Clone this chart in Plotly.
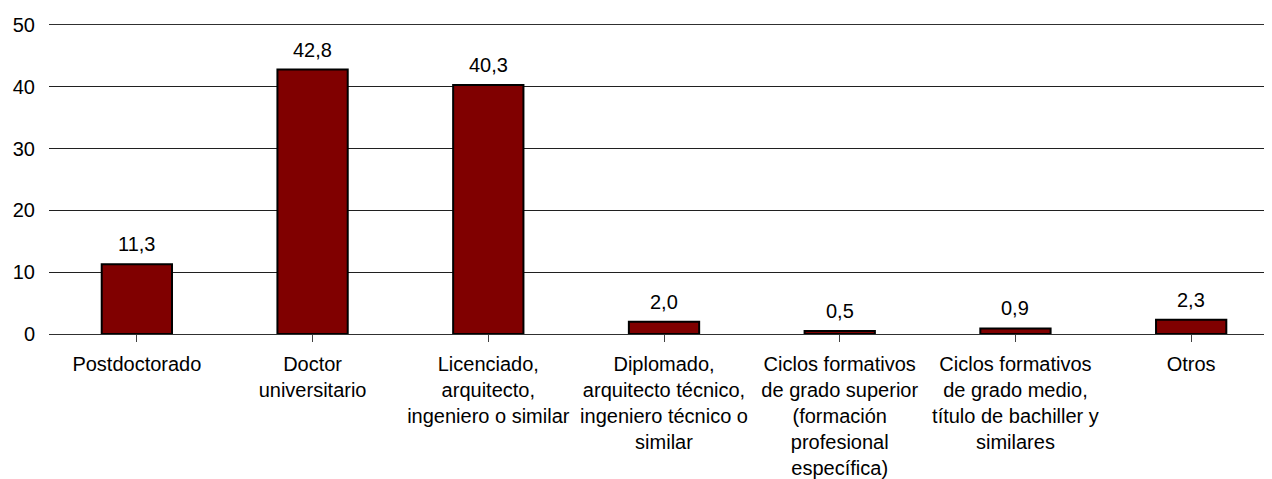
import plotly.graph_objects as go

categories = [
    "Postdoctorado",
    "Doctor<br>universitario",
    "Licenciado,<br>arquitecto,<br>ingeniero o similar",
    "Diplomado,<br>arquitecto técnico,<br>ingeniero técnico o<br>similar",
    "Ciclos formativos<br>de grado superior<br>(formación<br>profesional<br>específica)",
    "Ciclos formativos<br>de grado medio,<br>título de bachiller y<br>similares",
    "Otros",
]
values = [11.3, 42.8, 40.3, 2.0, 0.5, 0.9, 2.3]
y_ticks = [0, 10, 20, 30, 40, 50]

font = dict(family="Liberation Sans, Arial, sans-serif", size=20, color="black")
xpos = list(range(len(categories)))

fig = go.Figure()
fig.add_trace(go.Bar(
    x=xpos, y=values,
    width=0.4,
    marker=dict(color="#800000", line=dict(color="black", width=2)),
))

# value labels above the bars, comma as decimal sign
for x, v in zip(xpos, values):
    fig.add_annotation(
        x=x, y=v, text=f"{v:.1f}".replace(".", ","),
        showarrow=False, yanchor="bottom", yshift=7, font=font,
    )

# page body has an 8px margin, so the figure is shifted by that
fig.update_layout(
    width=1264, height=471,
    margin=dict(l=41, r=0, t=17, b=145),
    plot_bgcolor="white", paper_bgcolor="white",
    font=font, showlegend=False,
)
fig.update_xaxes(
    tickmode="array", tickvals=xpos, ticktext=categories,
    range=[-0.5, 6.46], automargin=False,
    ticks="outside", tickson="boundaries", ticklen=7, tickcolor="#404040",
    showline=True, linecolor="#303030", linewidth=1, mirror=True,
    showgrid=False, zeroline=False, ticklabelstandoff=5,
)
fig.update_yaxes(
    range=[0, 50], tickvals=y_ticks, automargin=False,
    showgrid=True, gridcolor="#202020", gridwidth=1,
    zeroline=False, showline=False, ticklabelstandoff=13,
)

fig.write_html("out.html")
